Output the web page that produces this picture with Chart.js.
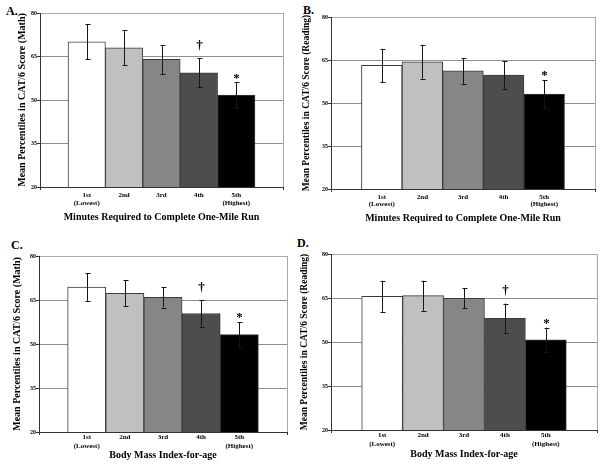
<!DOCTYPE html>
<html>
<head>
<meta charset="utf-8">
<script src="https://cdn.jsdelivr.net/npm/chart.js@4.4.1/dist/chart.umd.min.js"></script>
<style>
  html, body { margin: 0; padding: 0; background: #fff; }
  #page { position: relative; width: 604px; height: 466px; overflow: hidden; background: #fff; }
  canvas { position: absolute; }
  .letter { position: absolute; font: bold 12px "Liberation Serif", serif; color: #000; line-height: 14px; }
</style>
</head>
<body>
<div id="page">
  <div class="letter" style="left:6px;top:4px">A.</div>
  <div class="letter" style="left:303px;top:3px">B.</div>
  <div class="letter" style="left:11px;top:238px">C.</div>
  <div class="letter" style="left:297px;top:236px">D.</div>
  <canvas id="chartA" width="302" height="233" style="left:0;top:0"></canvas>
  <canvas id="chartB" width="304" height="233" style="left:300px;top:0"></canvas>
  <canvas id="chartC" width="302" height="233" style="left:0;top:233px"></canvas>
  <canvas id="chartD" width="304" height="233" style="left:300px;top:233px"></canvas>
</div>
<script>
// --- Data ---
const quintiles = ['1st', '2nd', '3rd', '4th', '5th'];
const quintileNotes = ['(Lowest)', '', '', '', '(Highest)'];
const yTicks = [20, 35, 50, 65, 80];

// mean percentiles and error bar half-lengths
const runMath = [70.1, 68.0, 64.0, 59.4, 51.7];
const runMathErr = [6.0, 6.1, 5.0, 5.0, 4.4];
const runReading = [63.1, 64.4, 61.2, 59.7, 53.1];
const runReadingErr = [5.8, 5.9, 4.5, 4.8, 4.9];
const bmiMath = [69.4, 67.3, 65.9, 60.4, 53.2];
const bmiMathErr = [4.7, 4.4, 3.5, 4.5, 4.3];
const bmiReading = [65.6, 65.8, 64.9, 58.1, 50.7];
const bmiReadingErr = [5.3, 5.1, 3.4, 5.0, 4.2];

// significance marks above the bars
const runMathMarks = ['', '', '', '\u2020', '*'];
const runReadingMarks = ['', '', '', '', '*'];
const bmiMathMarks = ['', '', '', '\u2020', '*'];
const bmiReadingMarks = ['', '', '', '\u2020', '*'];

const barColors = ['#ffffff', '#c0c0c0', '#868686', '#4d4d4d', '#000000'];
const SERIF = '"Liberation Serif", "Times New Roman", serif';

// --- Plugins ---
const framePlugin = {
    id: 'frame',
    beforeDraw(chart) {
        const { ctx, chartArea: a } = chart;
        ctx.save();
        ctx.strokeStyle = '#a8a8a8';
        ctx.lineWidth = 1;
        ctx.strokeRect(Math.round(a.left) + 0.5, Math.round(a.top) + 0.5,
            Math.round(a.right - a.left), Math.round(a.bottom - a.top));
        ctx.restore();
    },
    afterDraw(chart) {
        // little tick marks at both ends of the category axis
        const { ctx, chartArea: a } = chart;
        ctx.save();
        ctx.strokeStyle = '#333';
        ctx.beginPath();
        [a.left, a.right].forEach(x => {
            ctx.moveTo(Math.round(x) + 0.5, a.bottom);
            ctx.lineTo(Math.round(x) + 0.5, a.bottom + 3);
        });
        ctx.stroke();
        ctx.restore();
    }
};

const errorBarPlugin = {
    id: 'errorBars',
    afterDatasetsDraw(chart, args, opts) {
        const { ctx, scales: { y } } = chart;
        const meta = chart.getDatasetMeta(0);
        const values = chart.data.datasets[0].data;
        ctx.save();
        meta.data.forEach((bar, i) => {
            const v = values[i].y;
            const top = y.getPixelForValue(v + opts.errors[i]);
            const bot = y.getPixelForValue(v - opts.errors[i]);
            const x = Math.round(bar.x) + 0.5;
            ctx.strokeStyle = '#151515';
            ctx.lineWidth = 1;
            ctx.beginPath();
            ctx.moveTo(x, top); ctx.lineTo(x, bot);
            ctx.moveTo(x - 2, Math.round(top) + 0.5); ctx.lineTo(x + 3, Math.round(top) + 0.5);
            ctx.moveTo(x - 2, Math.round(bot) + 0.5); ctx.lineTo(x + 3, Math.round(bot) + 0.5);
            ctx.stroke();

            const mark = opts.marks[i];
            if (mark) {
                ctx.fillStyle = '#000';
                ctx.textAlign = 'center';
                ctx.textBaseline = 'middle';
                ctx.font = 'bold 13px ' + SERIF;
                const lift = mark === '*' ? 4 : 13;
                ctx.fillText(mark, x, top - lift);
            }
        });
        ctx.restore();
    }
};

// --- Chart builder ---
// box: canvas position/size on the page; area: plot area on the page
function buildPanel(id, box, area, values, errors, marks, yTitle, xTitle, t) {
    const ctx = document.getElementById(id).getContext('2d');
    const canvasBottom = box.top + box.height;

    return new Chart(ctx, {
        type: 'bar',
        data: {
            datasets: [{
                data: values.map((v, i) => ({ x: i, y: v })),
                backgroundColor: barColors,
                borderColor: '#3a3a3a',
                borderWidth: 1,
                barPercentage: 1,
                categoryPercentage: 1
            }]
        },
        options: {
            responsive: false,
            animation: false,
            devicePixelRatio: 1,
            layout: {
                padding: {
                    left: 0,
                    top: area.top - box.top,
                    right: box.left + box.width - area.right,
                    bottom: 0
                }
            },
            scales: {
                x: {
                    type: 'linear',
                    offset: false,
                    min: -1.25,
                    max: 5.25,
                    afterBuildTicks: (scale) => { scale.ticks = quintiles.map((q, i) => ({ value: i })); },
                    afterFit: (scale) => { scale.height = canvasBottom - area.bottom; },
                    grid: { display: false, drawTicks: false },
                    border: { display: true, color: '#333' },
                    ticks: {
                        padding: t.tickPad,
                        color: '#000',
                        maxRotation: 0,
                        autoSkip: false,
                        font: { family: SERIF, size: 7, weight: 'bold', lineHeight: t.tickLine },
                        callback: (v) => quintileNotes[v] ? [quintiles[v], quintileNotes[v]] : quintiles[v]
                    },
                    title: {
                        display: true,
                        text: xTitle,
                        color: '#000',
                        font: { family: SERIF, size: 10, weight: 'bold', lineHeight: 1 },
                        padding: { top: 0, bottom: canvasBottom - 5 - t.xTitleY }
                    }
                },
                y: {
                    min: 20,
                    max: 80,
                    afterBuildTicks: (scale) => { scale.ticks = yTicks.map(v => ({ value: v })); },
                    afterFit: (scale) => { scale.width = area.left - box.left; },
                    grid: {
                        color: (c) => c.tick.value === 20 ? 'rgba(0,0,0,0)' : (c.tick.value === 80 ? '#a8a8a8' : '#8f8f8f'),
                        tickColor: '#333',
                        tickLength: 3
                    },
                    border: { color: '#333' },
                    ticks: {
                        padding: 0,
                        color: '#000',
                        font: { family: SERIF, size: 6, weight: 'bold' }
                    },
                    title: {
                        display: true,
                        text: yTitle,
                        color: '#000',
                        font: { family: SERIF, size: t.yTitleSize, weight: 'bold', lineHeight: 1 },
                        padding: { top: t.yTitleX - box.left - t.yTitleSize / 2, bottom: 0 }
                    }
                }
            },
            plugins: {
                legend: { display: false },
                tooltip: { enabled: false },
                errorBars: { errors: errors, marks: marks }
            }
        },
        plugins: [framePlugin, errorBarPlugin]
    });
}

document.addEventListener('DOMContentLoaded', () => {
    buildPanel('chartA',
        { left: 0, top: 0, width: 302, height: 233 },
        { left: 40, right: 283, top: 13, bottom: 187 },
        runMath, runMathErr, runMathMarks,
        'Mean Percentiles in CAT/6 Score (Math)', 'Minutes Required to Complete One-Mile Run',
        { yTitleX: 22, yTitleSize: 10, xTitleY: 217, tickPad: 4, tickLine: 1.2 });

    buildPanel('chartB',
        { left: 300, top: 0, width: 304, height: 233 },
        { left: 331, right: 595, top: 17, bottom: 189 },
        runReading, runReadingErr, runReadingMarks,
        'Mean Percentiles in CAT/6 Score (Reading)', 'Minutes Required to Complete One-Mile Run',
        { yTitleX: 307, yTitleSize: 9.5, xTitleY: 218, tickPad: 5, tickLine: 1.0 });

    buildPanel('chartC',
        { left: 0, top: 233, width: 302, height: 233 },
        { left: 39, right: 287, top: 256, bottom: 432 },
        bmiMath, bmiMathErr, bmiMathMarks,
        'Mean Percentiles in CAT/6 Score (Math)', 'Body Mass Index-for-age',
        { yTitleX: 17, yTitleSize: 10, xTitleY: 455, tickPad: 1, tickLine: 1.3 });

    buildPanel('chartD',
        { left: 300, top: 233, width: 304, height: 233 },
        { left: 331, right: 597, top: 254, bottom: 430 },
        bmiReading, bmiReadingErr, bmiReadingMarks,
        'Mean Percentiles in CAT/6 Score (Reading)', 'Body Mass Index-for-age',
        { yTitleX: 305, yTitleSize: 9.5, xTitleY: 454, tickPad: 1, tickLine: 1.3 });
});
</script>
</body>
</html>
